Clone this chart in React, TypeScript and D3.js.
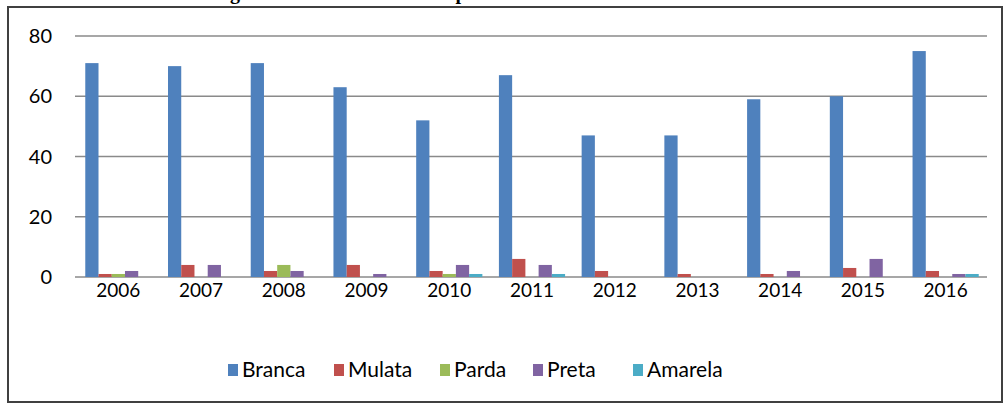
import * as d3 from "d3";

const years = ["2006", "2007", "2008", "2009", "2010", "2011", "2012", "2013", "2014", "2015", "2016"];
const seriesNames = ["Branca", "Mulata", "Parda", "Preta", "Amarela"];
const branca = [71, 70, 71, 63, 52, 67, 47, 47, 59, 60, 75];
const mulata = [1, 4, 2, 4, 2, 6, 2, 1, 1, 3, 2];
const parda = [1, 0, 4, 0, 1, 0, 0, 0, 0, 0, 0];
const preta = [2, 4, 2, 1, 4, 4, 0, 0, 2, 6, 1];
const amarela = [0, 0, 0, 0, 1, 1, 0, 0, 0, 0, 1];
const yTicks = [0, 20, 40, 60, 80];
const colors = ["#4F81BD", "#C0504D", "#9BBB59", "#8064A2", "#4BACC6"];

const values = [branca, mulata, parda, preta, amarela];

const W = 1007;
const H = 405;
const font = "Lato, 'Open Sans', sans-serif";

export default function App() {
  const x = d3.scaleBand().domain(years).range([77, 987]).paddingInner(0.2).paddingOuter(0.1);
  const inner = d3.scaleBand().domain(seriesNames).range([0, x.bandwidth()]);
  const y = d3.scaleLinear().domain([0, 80]).range([277, 36]);

  const legendX = [228, 334, 440, 533, 633];

  return (
    <svg width={W} height={H} style={{ position: "absolute", left: 0, top: 0, background: "#fff" }}>
      {/* title sits above the visible frame, only descenders show */}
      <text x={200} y={-1} fontFamily="'Liberation Serif', serif" fontWeight="bold" fontSize={20}>
        Origem étnica dos estudantes por cor e ano
      </text>
      <rect x={8} y={7} width={994} height={395} fill="none" stroke="#404040" strokeWidth={2} />
      {yTicks.map((t) => (
        <g key={t}>
          <line x1={75} x2={987} y1={y(t)} y2={y(t)} stroke="#8a8a8a" strokeWidth={1.5} />
          <text x={52} y={y(t)} dy="0.35em" textAnchor="end" fontFamily={font} fontSize={20} fill="#000">
            {t}
          </text>
        </g>
      ))}
      {years.map((yr, i) => (
        <g key={yr} transform={`translate(${x(yr)},0)`}>
          {seriesNames.map((s, j) =>
            values[j][i] > 0 ? (
              <rect
                key={s}
                x={inner(s)}
                y={y(values[j][i])}
                width={inner.bandwidth()}
                height={y(0) - y(values[j][i])}
                fill={colors[j]}
              />
            ) : null
          )}
          <text x={x.bandwidth() / 2} y={297} textAnchor="middle" fontFamily={font} fontSize={19} fill="#000">
            {yr}
          </text>
        </g>
      ))}
      {seriesNames.map((s, j) => (
        <g key={s} transform={`translate(${legendX[j]},370)`}>
          <rect x={0} y={-6} width={10} height={12} fill={colors[j]} />
          <text x={14} y={0} dy="0.35em" fontFamily={font} fontSize={21} fill="#000">
            {s}
          </text>
        </g>
      ))}
    </svg>
  );
}
